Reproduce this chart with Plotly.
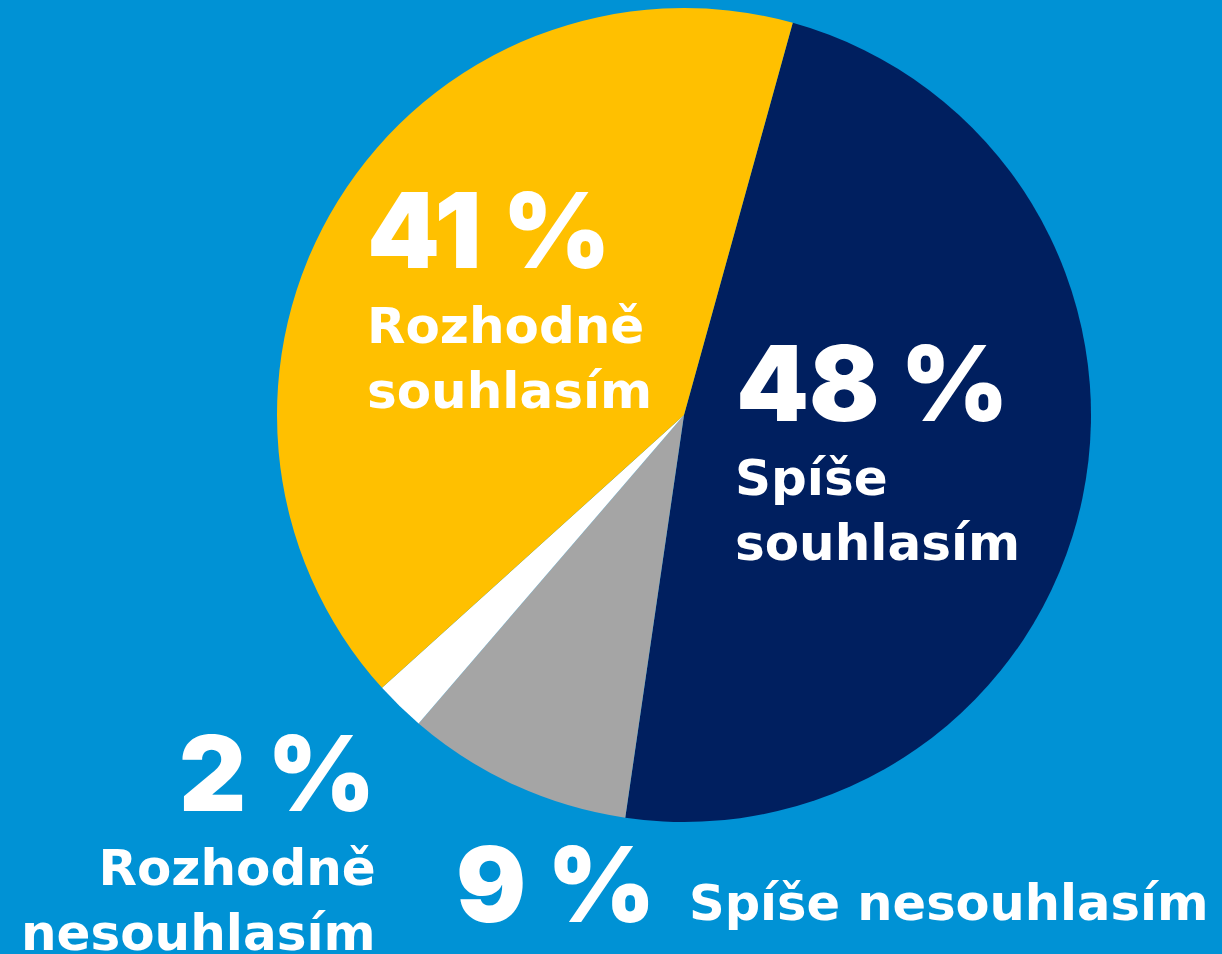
import plotly.graph_objects as go

labels = ["Spíše souhlasím", "Spíše nesouhlasím", "Rozhodně nesouhlasím", "Rozhodně souhlasím"]
values = [48, 9, 2, 41]
colors = ["#001F5F", "#A5A5A5", "#FFFFFF", "#FFC000"]
pct_text = ["48 %", "9 %", "2 %", "41 %"]
label_text = ["Spíše<br>souhlasím", "Spíše nesouhlasím", "Rozhodně<br>nesouhlasím", "Rozhodně<br>souhlasím"]

W, H = 1222, 954
BG = "#0092D5"
NUM_FONT = "Inter"
LBL_FONT = "DejaVu Sans"

fig = go.Figure(go.Pie(
    labels=labels, values=values, sort=False, direction="clockwise",
    rotation=15.5, marker=dict(colors=colors, line=dict(width=0)),
    textinfo="none", hoverinfo="skip", showlegend=False,
    domain=dict(x=[277 / W, 1091 / W], y=[1 - 822 / H, 1 - 8 / H]),
))

def px(x):
    return x / W

def py(y):
    return 1 - y / H

# (text, x_px, y_px, xanchor, font, size, weight, align)
anns = [
    (pct_text[3], 366, 230, "left", NUM_FONT, 104, 900, "left"),
    (label_text[3], 366, 358, "left", LBL_FONT, 50, 700, "left"),
    (pct_text[0], 735, 383, "left", NUM_FONT, 104, 900, "left"),
    (label_text[0], 734, 510, "left", LBL_FONT, 50, 700, "left"),
    (pct_text[2], 377, 773, "right", NUM_FONT, 104, 900, "right"),
    (label_text[2], 377, 900, "right", LBL_FONT, 50, 700, "right"),
    (pct_text[1], 455, 884, "left", NUM_FONT, 104, 900, "left"),
    (label_text[1], 688, 903, "left", LBL_FONT, 49.5, 700, "left"),
]
for t, x, y, xa, f, s, w, al in anns:
    fig.add_annotation(
        text=t, x=px(x), y=py(y), xref="paper", yref="paper",
        xanchor=xa, yanchor="middle", align=al, showarrow=False,
        borderpad=0,
        font=dict(family=f, size=s, color="white", weight=w),
    )

fig.update_layout(
    width=W, height=H, margin=dict(l=0, r=0, t=0, b=0),
    paper_bgcolor=BG, plot_bgcolor=BG,
)
fig.write_html("out.html")
